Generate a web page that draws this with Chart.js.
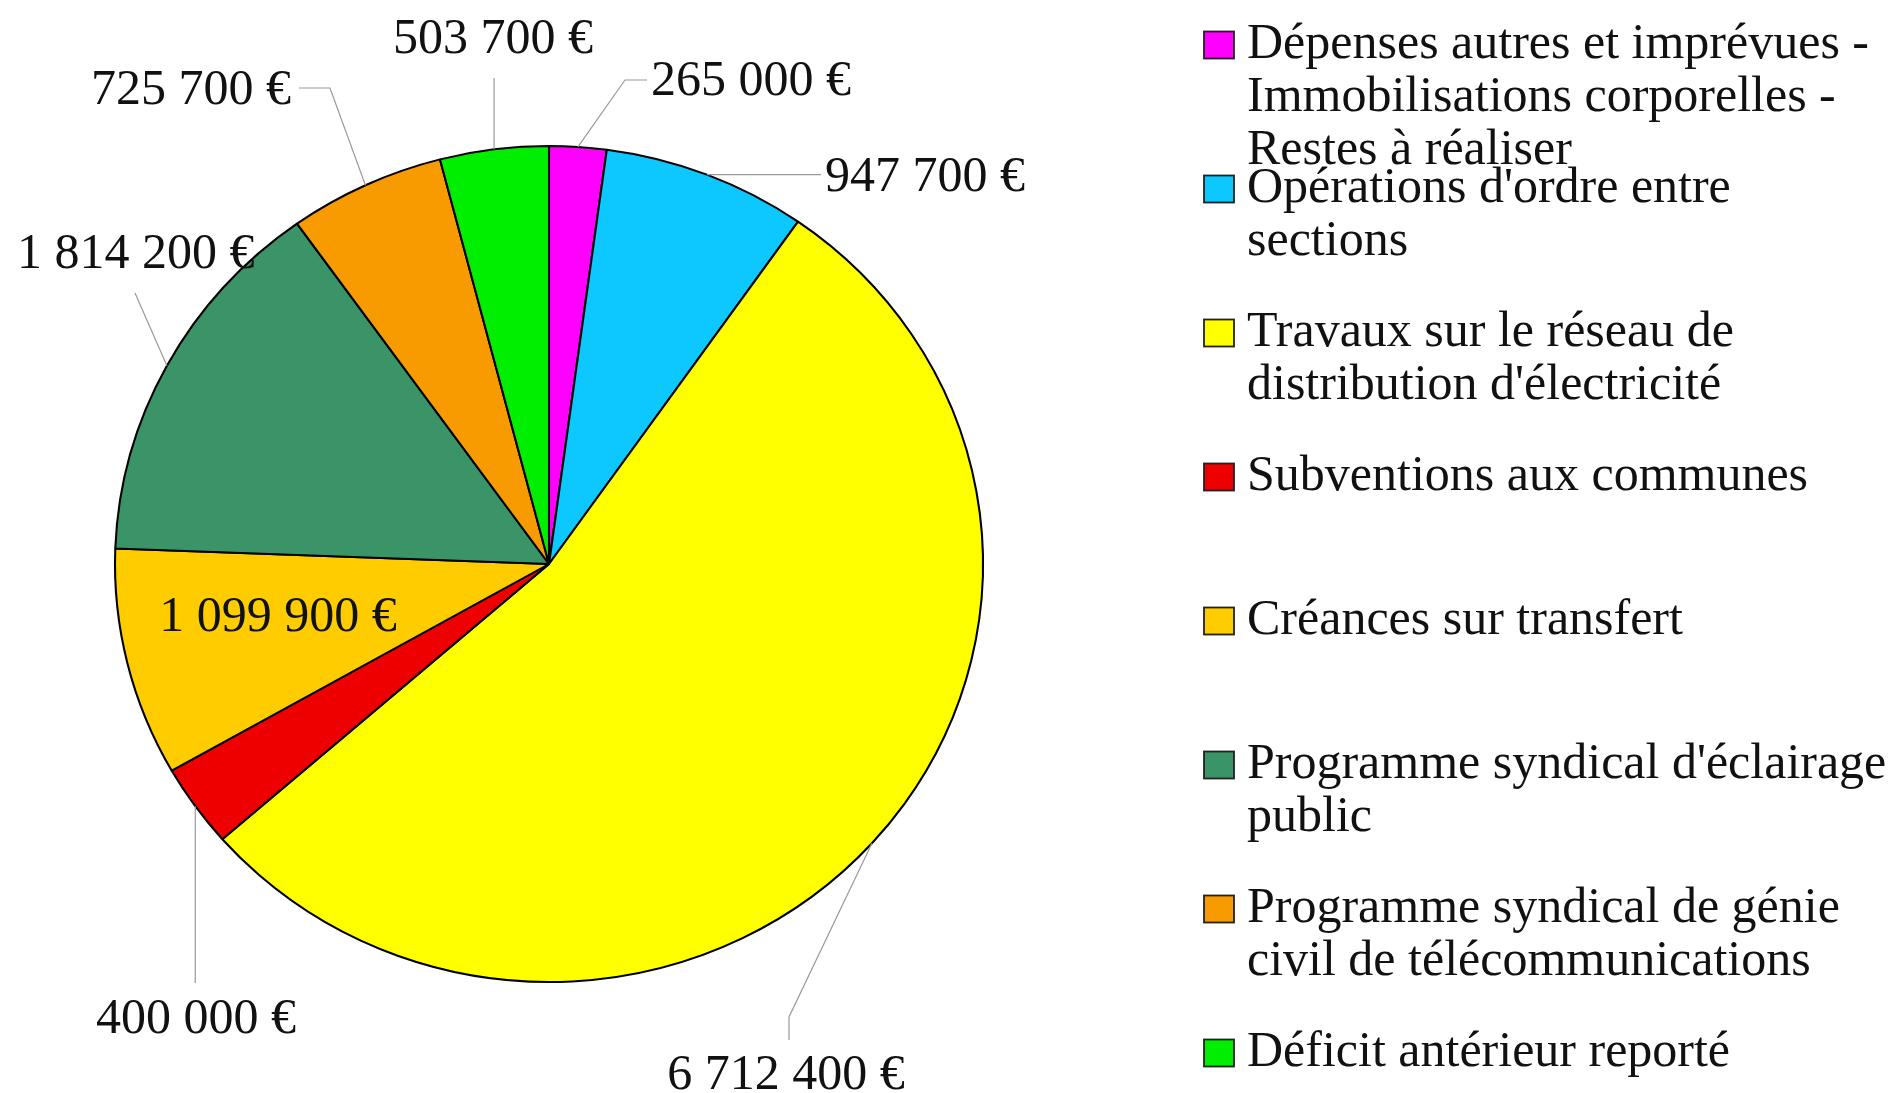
<!DOCTYPE html>
<html><head><meta charset="utf-8">
<script src="https://cdn.jsdelivr.net/npm/chart.js@4.4.1/dist/chart.umd.min.js"></script>
<style>html,body{margin:0;padding:0;background:#fff;overflow:hidden}canvas{display:block}</style>
</head><body>
<canvas id="c" width="1888" height="1093" style="width:1888px;height:1093px"></canvas>
<script>
// ---- data ----
const categories = [
  ["Dépenses autres et imprévues -", "Immobilisations corporelles -", "Restes à réaliser"],
  ["Opérations d'ordre entre", "sections"],
  ["Travaux sur le réseau de", "distribution d'électricité"],
  ["Subventions aux communes"],
  ["Créances sur transfert"],
  ["Programme syndical d'éclairage", "public"],
  ["Programme syndical de génie", "civil de télécommunications"],
  ["Déficit antérieur reporté"]
];
const values = [265000, 947700, 6712400, 400000, 1099900, 1814200, 725700, 503700];
const sliceColors = ["#FF00FF", "#0CC8FF", "#FFFF00", "#EE0000", "#FFCC00", "#3A9467", "#F89B00", "#00EE00"];

// ---- layout (not data) ----
const FONT = '50px "Liberation Serif", "Times New Roman", serif';
const X_STRETCH = 434 / 418;
const labelLayout = [
  {x: 651, y: 82,   align: 'left',   path: [[625, 80], [647, 80]]},
  {x: 825, y: 178,  align: 'left',   path: [[821, null]]},
  {x: 786, y: 1076, align: 'center', path: [[789, 1017], [789, 1040]]},
  {x: 196, y: 1020, align: 'center', path: [[null, 983]]},
  {x: 278, y: 618,  align: 'center', path: null},
  {x: 17,  y: 255,  align: 'left',   path: [[135, 293]]},
  {x: 291, y: 91,   align: 'right',  path: [[330, 88], [299, 88]]},
  {x: 493, y: 40,   align: 'center', path: [[null, 78]]}
];
const legendLayout = {boxX: 1204, boxW: 30, boxH: 27, textX: 1247, firstY: 45, itemStep: 144, lineStep: 53};

function fmt(v) {
  return String(v).replace(/\B(?=(\d{3})+(?!\d))/g, ' ') + ' €';
}

const ellipsePlugin = {
  id: 'ellipseAndLabels',
  beforeDatasetsDraw(chart) {
    const el = chart.getDatasetMeta(0).data[0];
    const ctx = chart.ctx;
    ctx.save();
    ctx.translate(el.x, el.y);
    ctx.scale(X_STRETCH, 1);
    ctx.translate(-el.x, -el.y);
  },
  afterDatasetsDraw(chart) {
    const ctx = chart.ctx;
    ctx.restore();
    const meta = chart.getDatasetMeta(0);
    const ds = chart.data.datasets[0];
    ctx.save();
    meta.data.forEach((arc, i) => {
      const p = arc.getProps(['x', 'y', 'startAngle', 'endAngle', 'outerRadius'], true);
      const mid = (p.startAngle + p.endAngle) / 2;
      const ex = p.x + Math.cos(mid) * p.outerRadius * X_STRETCH;
      const ey = p.y + Math.sin(mid) * p.outerRadius;
      const lay = labelLayout[i];
      if (lay.path) {
        ctx.beginPath();
        ctx.strokeStyle = '#9a9a9a';
        ctx.lineWidth = 1.2;
        ctx.moveTo(ex, ey);
        lay.path.forEach(pt => {
          ctx.lineTo(pt[0] === null ? ex : pt[0], pt[1] === null ? ey : pt[1]);
        });
        ctx.stroke();
      }
      ctx.font = FONT;
      ctx.fillStyle = '#111';
      ctx.textAlign = lay.align;
      ctx.textBaseline = 'middle';
      ctx.fillText(fmt(ds.data[i]), lay.x, lay.y);
    });
    ctx.restore();
  },
  afterDraw(chart) {
    const ctx = chart.ctx;
    const L = legendLayout;
    const ds = chart.data.datasets[0];
    ctx.save();
    chart.data.labels.forEach((lines, i) => {
      const cy = L.firstY + i * L.itemStep;
      ctx.fillStyle = ds.backgroundColor[i];
      ctx.fillRect(L.boxX, cy - L.boxH / 2, L.boxW, L.boxH);
      ctx.strokeStyle = '#222';
      ctx.lineWidth = 1.8;
      ctx.strokeRect(L.boxX, cy - L.boxH / 2, L.boxW, L.boxH);
      ctx.font = FONT;
      ctx.fillStyle = '#111';
      ctx.textAlign = 'left';
      ctx.textBaseline = 'middle';
      lines.forEach((t, k) => ctx.fillText(t, L.textX, cy + k * L.lineStep));
    });
    ctx.restore();
  }
};

new Chart(document.getElementById('c'), {
  type: 'pie',
  data: {
    labels: categories,
    datasets: [{
      data: values,
      backgroundColor: sliceColors,
      borderColor: '#000',
      borderWidth: 2
    }]
  },
  options: {
    responsive: false,
    devicePixelRatio: 1,
    animation: false,
    radius: 418,
    layout: {padding: {left: 0, right: 790, top: 35, bottom: 0}},
    plugins: {legend: {display: false}, tooltip: {enabled: false}}
  },
  plugins: [ellipsePlugin]
});
</script>
</body></html>
